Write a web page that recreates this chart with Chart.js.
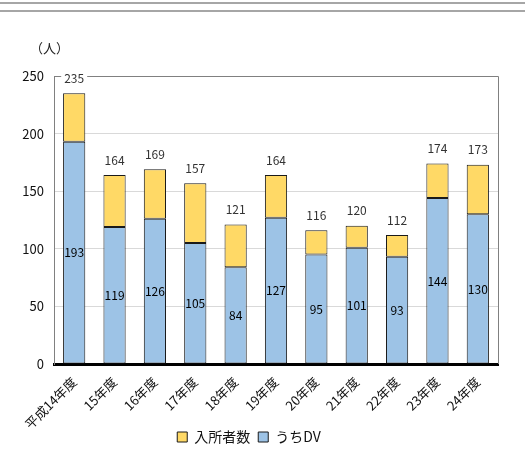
<!DOCTYPE html>
<html lang="ja">
<head>
<meta charset="utf-8">
<script src="https://cdn.jsdelivr.net/npm/chart.js@4.4.1/dist/chart.umd.min.js"></script>
<style>
  html, body { margin: 0; padding: 0; background: #fff; }
  #wrap { position: relative; width: 525px; height: 462px; }
</style>
</head>
<body>
<div id="wrap"><canvas id="shelter" width="525" height="462"></canvas></div>
<script>
const years = ['平成14年度', '15年度', '16年度', '17年度', '18年度', '19年度', '20年度', '21年度', '22年度', '23年度', '24年度'];
const totalAdmitted = [235, 164, 169, 157, 121, 164, 116, 120, 112, 174, 173];
const dvCases = [193, 119, 126, 105, 84, 127, 95, 101, 93, 144, 130];
const yTicks = [0, 50, 100, 150, 200, 250];

const FONT = '"Noto Sans CJK JP", "Noto Sans", sans-serif';

// 上段（黄）は入所者数からDV分を引いた残り
const restCases = totalAdmitted.map((t, i) => t - dvCases[i]);

const frame = {
    id: 'frame',
    afterLayout(chart) {
        // 凡例を少し上へ寄せる
        chart.legend.top -= 6;
        chart.legend.bottom -= 6;
    },
    beforeDraw(chart) {
        const c = chart.ctx;
        c.save();
        // ページ上部の罫線
        c.fillStyle = '#a6a6a6';
        c.fillRect(0, 2, 525, 2);
        c.fillRect(0, 10, 525, 2);
        c.fillStyle = '#222';
        c.font = '13px ' + FONT;
        c.textAlign = 'left';
        c.textBaseline = 'middle';
        c.fillText('（人）', 30, 48);
        c.restore();
    },
    afterDatasetsDraw(chart) {
        const { ctx: c, chartArea: a, scales } = chart;
        const ys = scales.y;
        c.save();
        c.strokeStyle = '#808080';
        c.lineWidth = 1;
        c.beginPath();
        c.moveTo(a.left, a.top + 0.5);
        c.lineTo(a.right + 0.5, a.top + 0.5);
        c.lineTo(a.right + 0.5, a.bottom);
        c.stroke();

        const meta = chart.getDatasetMeta(0);
        c.font = '12px ' + FONT;
        c.textAlign = 'center';
        c.textBaseline = 'middle';
        totalAdmitted.forEach((t, i) => {
            const x = meta.data[i].x;
            const y = ys.getPixelForValue(t) - 15;
            const w = c.measureText(String(t)).width;
            c.fillStyle = '#fff';
            c.fillRect(x - w / 2 - 3, y - 7, w + 6, 14);
            c.fillStyle = '#333';
            c.fillText(String(t), x, y);
        });
        c.fillStyle = '#000';
        dvCases.forEach((v, i) => {
            const x = meta.data[i].x;
            c.fillText(String(v), x, ys.getPixelForValue(v / 2));
        });
        c.restore();
    }
};

new Chart(document.getElementById('shelter'), {
    type: 'bar',
    data: {
        labels: years,
        datasets: [
            {
                label: 'うちDV',
                data: dvCases,
                backgroundColor: '#9dc3e6',
                borderColor: '#1a1a1a',
                borderWidth: 1,
                borderSkipped: false,
                barPercentage: 0.55,
                categoryPercentage: 1
            },
            {
                label: '入所者数',
                data: restCases,
                backgroundColor: '#ffd966',
                borderColor: '#1a1a1a',
                borderWidth: 1,
                borderSkipped: false,
                barPercentage: 0.55,
                categoryPercentage: 1
            }
        ]
    },
    options: {
        responsive: false,
        animation: false,
        layout: { padding: { top: 76, right: 27, left: 0, bottom: 2 } },
        plugins: {
            tooltip: { enabled: false },
            legend: {
                position: 'bottom',
                reverse: true,
                labels: {
                    boxWidth: 10,
                    boxHeight: 10,
                    padding: 8,
                    color: '#111',
                    font: { family: FONT, size: 14 }
                }
            }
        },
        scales: {
            x: {
                stacked: true,
                grid: { display: false },
                border: { color: '#000', width: 3 },
                ticks: {
                    autoSkip: false,
                    minRotation: 45,
                    maxRotation: 45,
                    padding: 2,
                    color: '#111',
                    font: { family: FONT, size: 13 }
                },
                afterFit(s) { s.height = 64; }
            },
            y: {
                stacked: true,
                min: 0,
                max: 250,
                afterBuildTicks(s) { s.ticks = yTicks.map(v => ({ value: v })); },
                grid: { color: '#d9d9d9', drawTicks: false },
                border: { color: '#808080', width: 1 },
                ticks: {
                    padding: 10,
                    color: '#111',
                    font: { family: FONT, size: 13 }
                },
                afterFit(s) { s.width = 54; }
            }
        }
    },
    plugins: [frame]
});
</script>
</body>
</html>
